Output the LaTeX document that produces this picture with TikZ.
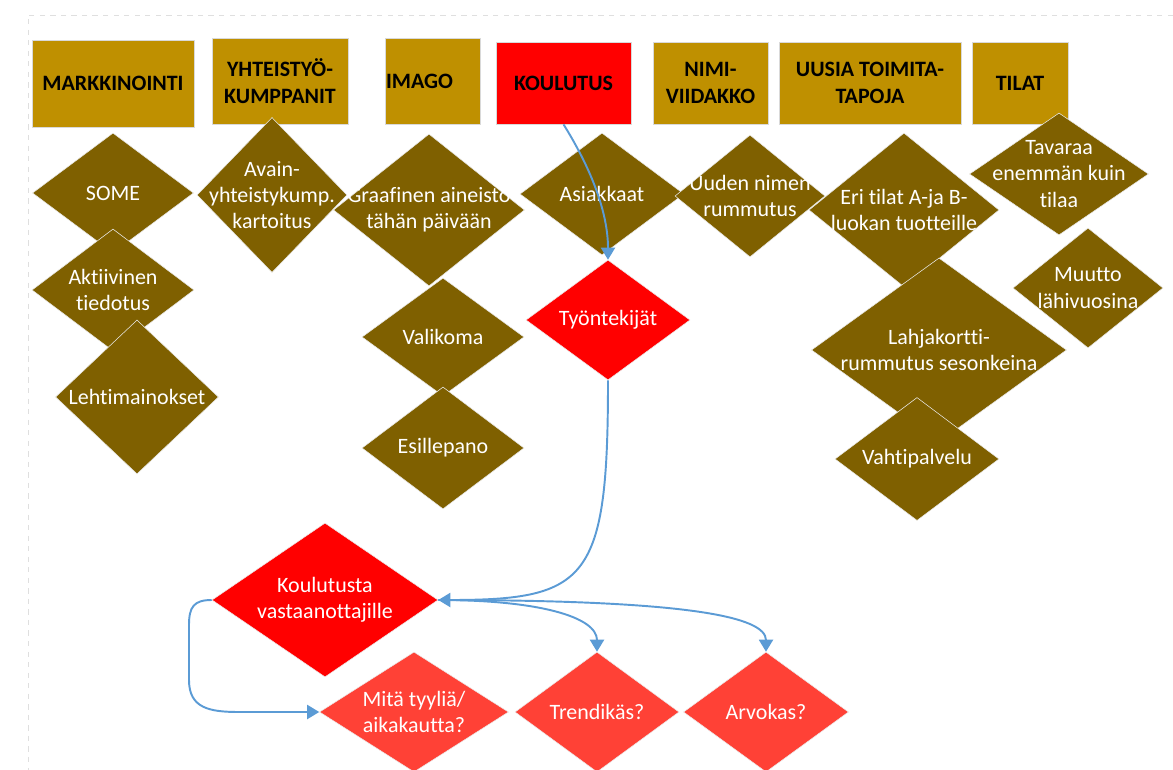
\documentclass[tikz,border=0pt]{standalone}
\usepackage{fontspec}
\setmainfont{Carlito}[RawFeature={-liga;-clig;-calt}]
\usetikzlibrary{shapes.geometric,arrows.meta}
\definecolor{gold}{HTML}{BF9000}
\definecolor{mud}{HTML}{7F6000}
\definecolor{hot}{HTML}{FF0000}
\definecolor{pale}{HTML}{FF4136}
\definecolor{wire}{HTML}{5B9BD5}
\begin{document}
\begin{tikzpicture}[x=0.02cm, y=-0.02cm,
    hdr/.style 2 args={rectangle, fill=gold, draw=gray!30, minimum width=#1*0.02cm, minimum height=#2*0.02cm, inner sep=0pt, align=center, font=\fontsize{12.5}{15}\selectfont\bfseries},
    dia/.style 2 args={diamond, fill=mud, draw=white!85!gray, line width=0.3pt, minimum width=#1*0.02cm, minimum height=#2*0.02cm, inner sep=0pt},
    txt/.style={text=white, align=center, font=\fontsize{12.5}{15}\selectfont},
    flow/.style={-{Triangle[width=0.28cm,length=0.24cm]}, draw=wire, line width=1.1pt}]
    \useasboundingbox (0,0) rectangle (1173,770);
    \draw[gray!25, dashed] (1173,15) -- (28,15) -- (28,770);
    % headers
    \node[hdr={162}{87}] (mark) at (113,83.5) {MARKKINOINTI};
    \node[hdr={136}{86}] (yht) at (280,81) {YHTEISTYÖ-\\KUMPPANIT};
    \node[hdr={95}{86}, text width=93*0.02cm, align=left] (imago) at (432.5,81) {IMAGO};
    \node[hdr={135}{82}, fill=hot] (kou) at (563.5,83) {KOULUTUS};
    \node[hdr={115}{82}] (nimi) at (710.5,83) {NIMI-\\VIIDAKKO};
    \node[hdr={182}{82}] (uusia) at (870,83) {UUSIA TOIMITA-\\TAPOJA};
    \node[hdr={96}{82}] (tilat) at (1020,83) {TILAT};
    % diamonds
    \node[dia={161}{120}, label={[txt]center:SOME}] (some) at (113,193) {};
    \node[dia={162}{122}, label={[txt]center:Aktiivinen\\tiedotus}] (akt) at (113,290) {};
    \node[dia={163}{154}, label={[txt]center:Lehtimainokset}] (leh) at (137,397) {};
    \node[dia={150}{155}, label={[txt]center:Avain-\\yhteistykump.\\kartoitus}] (avain) at (272,195) {};
    \node[dia={191}{152}, label={[txt]center:Graafinen aineisto\\tähän päivään}] (graaf) at (429,210) {};
    \node[dia={162}{118}, label={[txt]center:Valikoma}] (vali) at (443,337) {};
    \node[dia={162}{122}, label={[txt]center:Esillepano}] (esil) at (443,448) {};
    \node[dia={164}{122}, label={[txt]center:Asiakkaat}] (asiak) at (602,194) {};
    \node[dia={164}{120}, fill=hot, label={[txt]center:Työntekijät}] (tyo) at (608,320) {};
    \node[dia={150}{122}, label={[txt]center:Uuden nimen\\rummutus}] (uuden) at (750,196) {};
    \node[dia={190}{154}, label={[txt]center:Eri tilat A-ja B-\\luokan tuotteille}] (eri) at (904,210) {};
    \node[dia={255}{184}, label={[txt]center:Lahjakortti-\\rummutus sesonkeina}] (lahja) at (939,350) {};
    \node[dia={164}{123}, label={[txt]center:Vahtipalvelu}] (vahti) at (917,459) {};
    \node[dia={179}{122}, label={[txt]center:Tavaraa\\enemmän kuin\\tilaa}] (tava) at (1059,174) {};
    \node[dia={150}{120}, label={[txt]center:Muutto\\lähivuosina}] (muutto) at (1088,288) {};
    \node[dia={226}{154}, fill=hot, label={[txt]center:Koulutusta\\vastaanottajille}] (kvo) at (325,600) {};
    \node[dia={189}{120}, fill=pale, label={[txt]center:Mitä tyyliä/\\aikakautta?}] (mit) at (414,712) {};
    \node[dia={164}{120}, fill=pale, label={[txt]center:Trendikäs?}] (tre) at (597,712) {};
    \node[dia={165}{120}, fill=pale, label={[txt]center:Arvokas?}] (arv) at (766,712) {};
    % arrows
    \draw[flow] (kou.south) .. controls +(25,40) and +(0,-50) .. (tyo.north);
    \draw[flow] (tyo.south) .. controls +(0,200) and +(150,0) .. (kvo.east);
    \draw[flow] (kvo.east) .. controls +(100,0) and +(0,-35) .. (tre.north);
    \draw[flow] (kvo.east) .. controls +(250,0) and +(0,-35) .. (arv.north);
    \draw[flow] (kvo.west) .. controls +(-18,0) and +(0,-18) .. (189,625) -- (189,680)
        .. controls +(0,28) and +(-30,0) .. (239,712) -- (mit.west);
\end{tikzpicture}
\end{document}
